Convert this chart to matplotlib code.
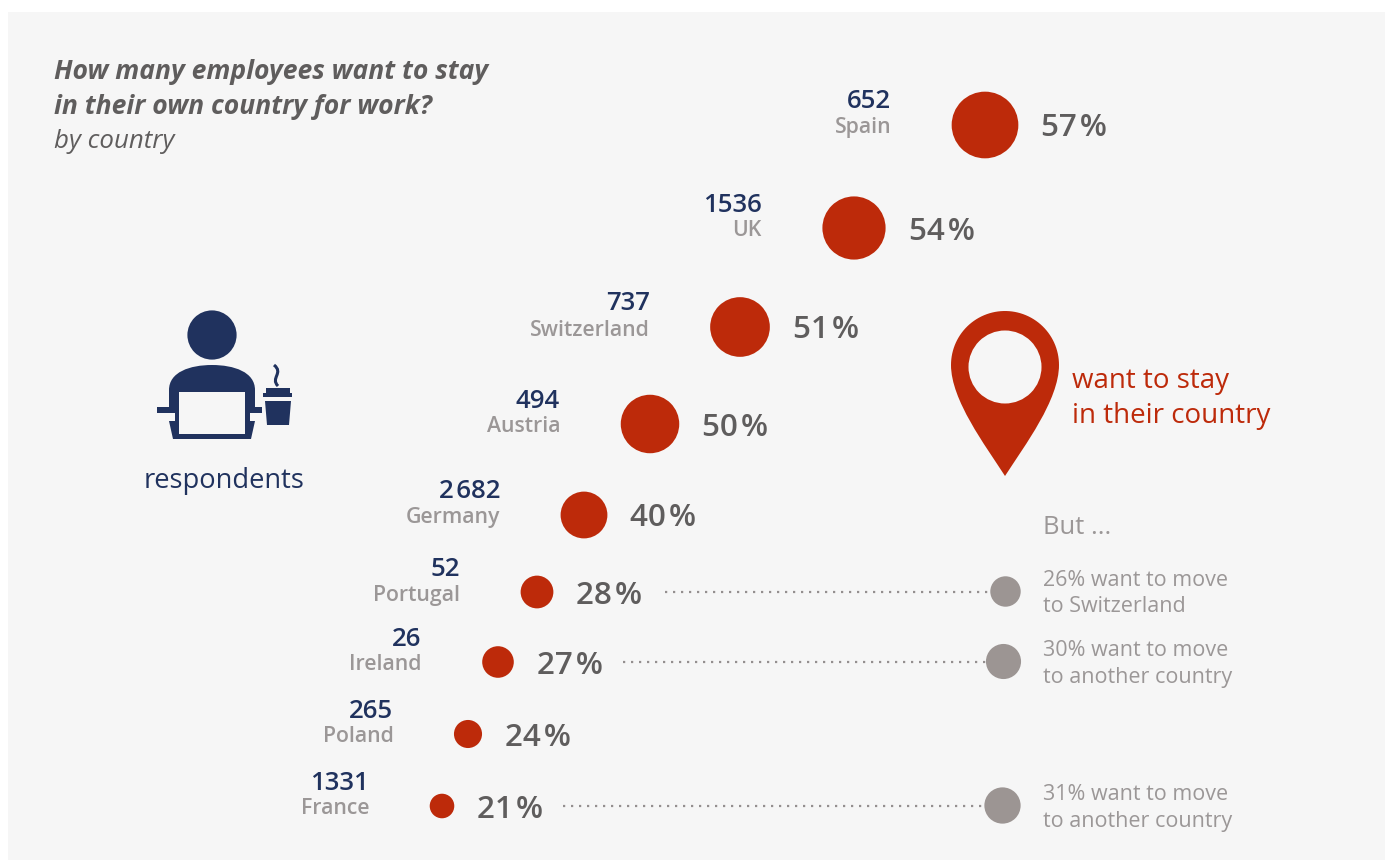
import numpy as np
import matplotlib
matplotlib.use("Agg")
import matplotlib.pyplot as plt
from matplotlib.patches import Rectangle, Circle, PathPatch, Polygon
from matplotlib.path import Path

# Survey results per country
countries = ["Spain", "UK", "Switzerland", "Austria", "Germany", "Portugal", "Ireland", "Poland", "France"]
respondents = ["652", "1536", "737", "494", "2\u200a682", "52", "26", "265", "1331"]
stay_pct = [57, 54, 51, 50, 40, 28, 27, 24, 21]

# Share wanting to move elsewhere, where reported
move_countries = ["Portugal", "Ireland", "France"]
move_pct = [26, 30, 31]
move_targets = ["to Switzerland", "to another country", "to another country"]

# Placement on the staircase layout (figure pixels)
bubble_x = [985, 854, 740, 650, 584, 537, 498, 468, 442]
bubble_y = [125, 228, 327, 424, 515, 592, 662, 734, 806]
move_dot_x = [1005, 1003, 1002]
leader_start_x = [665, 623, 563]
move_text_y = [592, 662, 807]

W, H = 1391, 861
RED = "#BD2A0A"
NAVY = "#20325E"
GREY_TEXT = "#5F5D5D"
LABEL_GREY = "#9B9797"
DOT_GREY = "#9C9593"
PANEL = "#F6F6F6"
FONT = "Open Sans"

fig = plt.figure(figsize=(W / 100, H / 100), dpi=100, facecolor="white")
ax = fig.add_axes([0, 0, 1, 1])
ax.set_xlim(0, W)
ax.set_ylim(H, 0)
ax.axis("off")

ax.add_patch(Rectangle((8, 12), 1377, 848, fc=PANEL, ec="none", zorder=0))


def txt(x, y, s, size, color, **kw):
    kw.setdefault("va", "center")
    kw.setdefault("ha", "left")
    return ax.text(x, y, s, fontsize=size, color=color, family=FONT, **kw)


# Title block
txt(54, 72, "How many employees want to stay", 19.1, GREY_TEXT, weight="bold", style="italic")
txt(54, 107, "in their own country for work?", 19.1, GREY_TEXT, weight="bold", style="italic")
txt(54, 142, "by country", 18.6, GREY_TEXT, style="italic")

# Bubbles: diameter scales with the percentage
px_to_pt = 72 / 100
diam = np.array(stay_pct) * 1.17
ax.scatter(bubble_x, bubble_y, s=(diam * px_to_pt) ** 2, c=RED, linewidths=0, zorder=3)

for x, y, d, c, r, p in zip(bubble_x, bubble_y, diam, countries, respondents, stay_pct):
    lab_x = x - d / 2 - 60.5
    txt(lab_x, y + 3, c, 15.3, LABEL_GREY, weight="semibold", ha="right")
    txt(lab_x, y - 23, r, 18.5, NAVY, weight="semibold", ha="right")
    txt(x + d / 2 + 23, y + 3.5, f"{p}\u200a%", 22.6, GREY_TEXT, weight="semibold")

# Leader lines and the grey "move" dots
pos = {c: i for i, c in enumerate(countries)}
for c, m, t, dx, sx, ty in zip(move_countries, move_pct, move_targets, move_dot_x, leader_start_x, move_text_y):
    y = bubble_y[pos[c]]
    ax.plot([sx, dx], [y, y], color="#948F8F", lw=1.6, ls=(0, (1, 2.6)), zorder=1)
    ax.scatter([dx], [y - 1], s=((m * 1.17) * px_to_pt) ** 2, c=DOT_GREY, linewidths=0, zorder=3)
    txt(1043, ty - 12, f"{m}% want to move", 15.5, LABEL_GREY)
    txt(1043, ty + 15, t, 15.5, LABEL_GREY)

txt(1043, 528, "But ...", 18.4, LABEL_GREY)

# Map pin legend
t = np.linspace(np.pi, 0, 60)
cx, cy, R = 1005, 365, 54
arc = np.column_stack([cx + R * np.cos(t), cy - R * np.sin(t)])
verts = [tuple(p) for p in arc]
codes = [Path.MOVETO] + [Path.LINETO] * (len(verts) - 1)
verts += [(1059, 400), (1025, 445), (1005, 476), (985, 445), (951, 400), (951, 365)]
codes += [Path.CURVE4] * 6
ax.add_patch(PathPatch(Path(verts, codes), fc=RED, ec="none", zorder=3))
ax.add_patch(Circle((1005, 367), 36.5, fc=PANEL, ec="none", zorder=4))
txt(1072, 381, "want to stay", 20, RED)
txt(1072, 416, "in their country", 20, RED)

# Respondent icon: person behind a laptop with a coffee cup
ax.add_patch(Circle((212, 335), 24.6, fc=NAVY, ec="none", zorder=3))
body = Path(
    [(169, 413), (169, 390), (169, 372), (190, 365), (212, 365), (234, 365), (255, 372), (255, 390),
     (255, 413), (250, 413), (250, 422), (175, 422), (175, 413), (169, 413)],
    [Path.MOVETO, Path.LINETO, Path.CURVE4, Path.CURVE4, Path.CURVE4, Path.CURVE4, Path.CURVE4, Path.CURVE4,
     Path.LINETO, Path.LINETO, Path.LINETO, Path.LINETO, Path.LINETO, Path.CLOSEPOLY],
)
ax.add_patch(PathPatch(body, fc=NAVY, ec="none", zorder=3))
ax.add_patch(Rectangle((157, 407), 105, 6, fc=NAVY, ec="none", zorder=3))
ax.add_patch(Polygon([(169, 421), (255, 421), (251, 439), (173, 439)], fc=NAVY, ec="none", zorder=3))
ax.add_patch(Rectangle((179, 392), 66, 42, fc=PANEL, ec="none", zorder=4))
ax.add_patch(Polygon([(265, 401), (291, 401), (289, 425), (267, 425)], fc=NAVY, ec="none", zorder=3))
ax.add_patch(Rectangle((263, 393), 29, 4, fc=NAVY, ec="none", zorder=3))
ax.add_patch(Rectangle((266, 388), 24, 6, fc=NAVY, ec="none", zorder=3))
steam = Path([(274, 365), (284, 373), (270, 378), (278, 386)], [Path.MOVETO, Path.CURVE4, Path.CURVE4, Path.CURVE4])
ax.add_patch(PathPatch(steam, fc="none", ec=NAVY, lw=2.2, zorder=3))
txt(224, 481, "respondents", 19.6, NAVY, ha="center")

fig.savefig("out.png", dpi=100, facecolor="white")
